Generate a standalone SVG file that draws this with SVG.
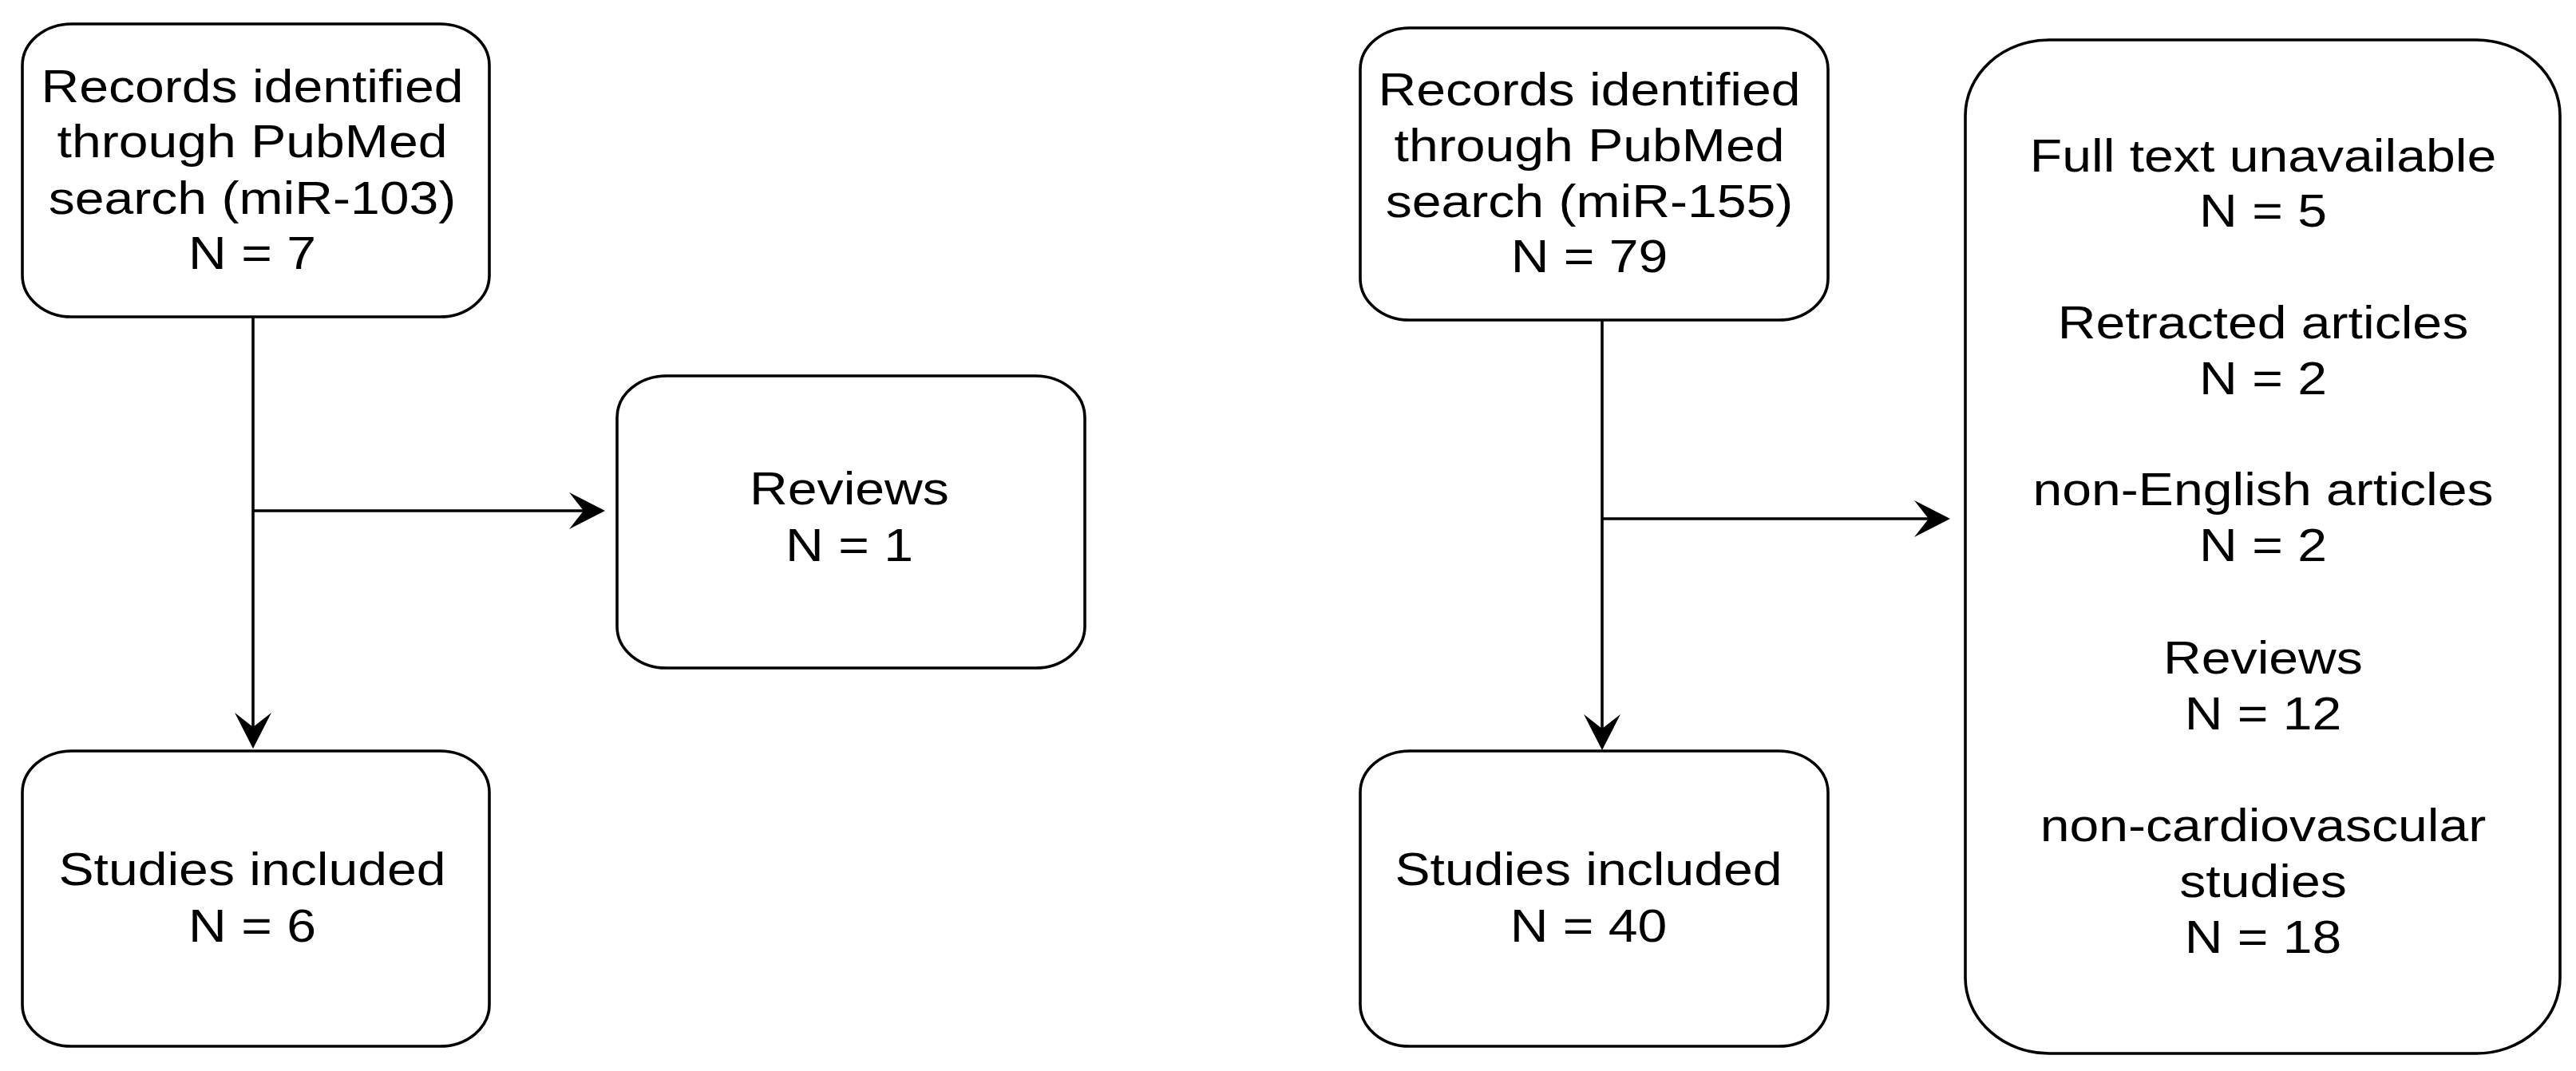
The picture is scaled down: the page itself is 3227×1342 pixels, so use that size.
<svg xmlns="http://www.w3.org/2000/svg" width="3227" height="1342" viewBox="0 0 3227 1342">
<style>
.box{fill:#fff;stroke:#000;stroke-width:3.6}
.t{font-family:"Liberation Sans",Arial,Helvetica,sans-serif;font-size:57px;text-anchor:middle;fill:#000}
.edge{fill:none;stroke:#000;stroke-width:3.6;marker-end:url(#arr)}
.line{fill:none;stroke:#000;stroke-width:3.6}
</style>
<defs>
<marker id="arr" markerUnits="userSpaceOnUse" viewBox="-47 -25 50 50" refX="-15" refY="0" markerWidth="50" markerHeight="50" orient="auto">
<path d="M0,0 L-45,-23 L-27,0 L-45,23 Z" fill="#000"/>
</marker>
</defs>
<rect width="3227" height="1342" fill="#fff"/>

<g id="connectors">
<path class="line" d="M317,397 L317,640"/>
<path class="edge" d="M317,640 L317,923"/>
<path class="edge" d="M317,640 L743,640"/>
<path class="line" d="M2007,401 L2007,650"/>
<path class="edge" d="M2007,650 L2007,925"/>
<path class="edge" d="M2007,650 L2428,650"/>
</g>

<g id="node-records-103">
<rect class="box" x="28" y="30" width="585" height="367" rx="62" ry="52"/>
<g transform="translate(316 0) scale(1.16 1)">
<text class="t" x="0" y="128">Records identified</text>
<text class="t" x="0" y="197">through PubMed</text>
<text class="t" x="0" y="268">search (miR-103)</text>
<text class="t" x="0" y="337">N = 7</text>
</g>
</g>

<g id="node-reviews-103">
<rect class="box" x="773" y="471" width="586" height="366" rx="62" ry="52"/>
<g transform="translate(1064 0) scale(1.16 1)">
<text class="t" x="0" y="632">Reviews</text>
<text class="t" x="0" y="703">N = 1</text>
</g>
</g>

<g id="node-studies-103">
<rect class="box" x="28" y="941" width="585" height="370" rx="62" ry="52"/>
<g transform="translate(316 0) scale(1.16 1)">
<text class="t" x="0" y="1109">Studies included</text>
<text class="t" x="0" y="1180">N = 6</text>
</g>
</g>

<g id="node-records-155">
<rect class="box" x="1704" y="35" width="586" height="366" rx="62" ry="52"/>
<g transform="translate(1991 0) scale(1.16 1)">
<text class="t" x="0" y="132">Records identified</text>
<text class="t" x="0" y="202">through PubMed</text>
<text class="t" x="0" y="272">search (miR-155)</text>
<text class="t" x="0" y="341">N = 79</text>
</g>
</g>

<g id="node-studies-155">
<rect class="box" x="1704" y="941" width="586" height="370" rx="62" ry="52"/>
<g transform="translate(1990 0) scale(1.16 1)">
<text class="t" x="0" y="1109">Studies included</text>
<text class="t" x="0" y="1180">N = 40</text>
</g>
</g>

<g id="node-excluded-155">
<rect class="box" x="2462" y="50" width="745" height="1270" rx="105" ry="95"/>
<g transform="translate(2835 0) scale(1.16 1)">
<text class="t" x="0" y="215">Full text unavailable</text>
<text class="t" x="0" y="284">N = 5</text>
<text class="t" x="0" y="424">Retracted articles</text>
<text class="t" x="0" y="494">N = 2</text>
<text class="t" x="0" y="633">non-English articles</text>
<text class="t" x="0" y="703">N = 2</text>
<text class="t" x="0" y="844">Reviews</text>
<text class="t" x="0" y="914">N = 12</text>
<text class="t" x="0" y="1054">non-cardiovascular</text>
<text class="t" x="0" y="1124">studies</text>
<text class="t" x="0" y="1194">N = 18</text>
</g>
</g>
</svg>
